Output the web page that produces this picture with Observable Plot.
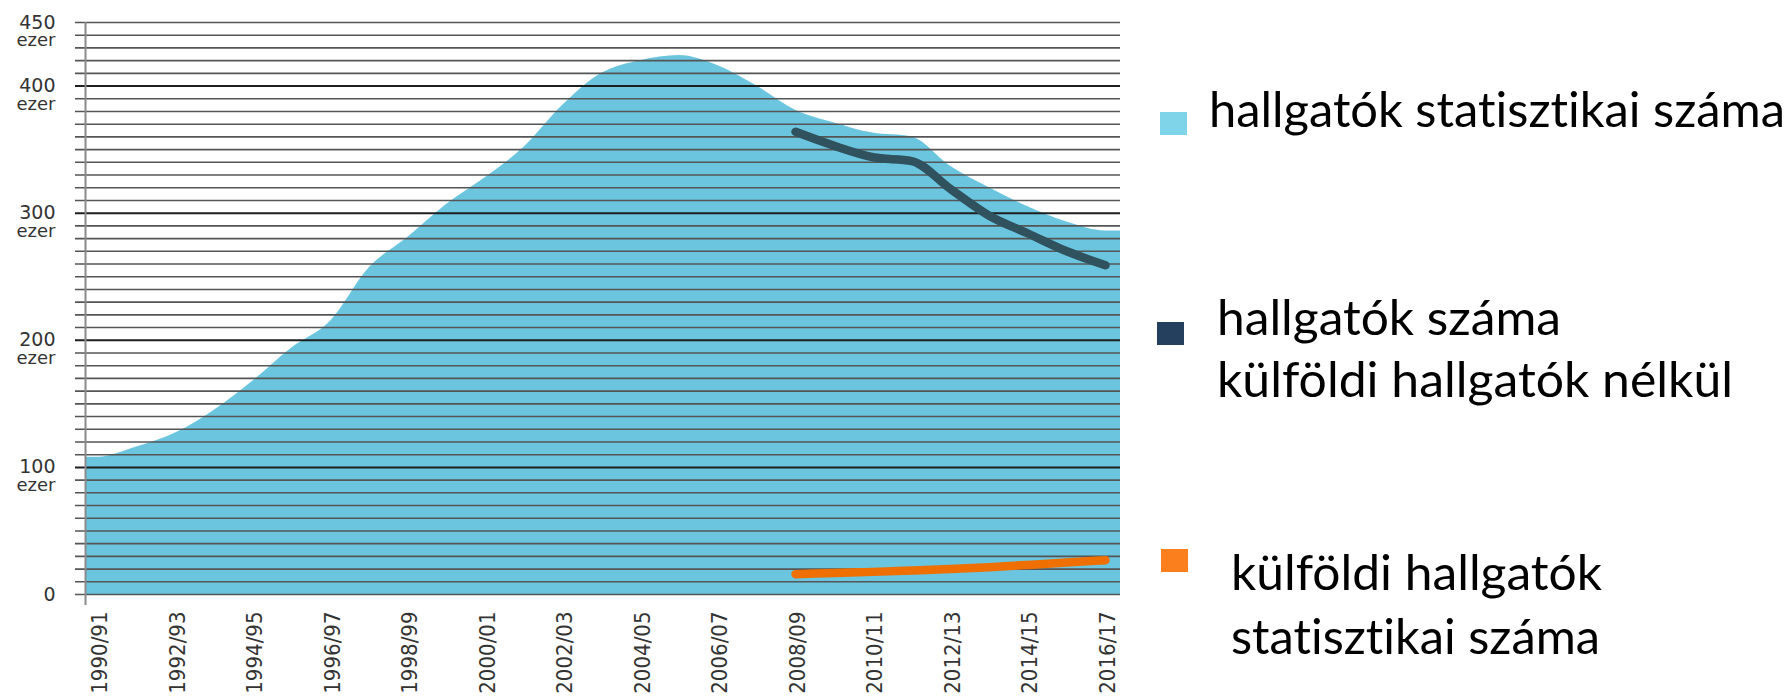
<!DOCTYPE html>
<html>
<head>
<meta charset="utf-8">
<script src="https://cdn.jsdelivr.net/npm/d3@7"></script>
<script src="https://cdn.jsdelivr.net/npm/@observablehq/plot@0.6"></script>
<style>
  html, body { margin: 0; padding: 0; background: #fff; }
  #wrap { position: relative; width: 1789px; height: 697px; overflow: hidden; }
  #legend { position: absolute; left: 0; top: 0; pointer-events: none; }
  #legend text { font-variant-ligatures: none; font-feature-settings: "liga" 0, "dlig" 0; }
</style>
</head>
<body>
<div id="wrap"></div>
<script>
// ---- data (thousand students) ----
const seasons = ["1990/91","1991/92","1992/93","1993/94","1994/95","1995/96","1996/97","1997/98","1998/99","1999/00",
  "2000/01","2001/02","2002/03","2003/04","2004/05","2005/06","2006/07","2007/08","2008/09","2009/10",
  "2010/11","2011/12","2012/13","2013/14","2014/15","2015/16","2016/17"];
const totalStudents = [108,116,127,145,168,194,215,257,281,307,328,352,385,410,420,424,416,400,381,371,363,360,337,320,305,293,286];
const recentSeasons = ["2008/09","2009/10","2010/11","2011/12","2012/13","2013/14","2014/15","2015/16","2016/17"];
const withoutForeign = [364,353,344,341,319,298,284,270,259];
const foreignStudents = [16,16.9,17.8,18.8,20,21.5,23.3,25.2,27];
const tickSeasons = ["1990/91","1992/93","1994/95","1996/97","1998/99","2000/01","2002/03","2004/05","2006/07","2008/09","2010/11","2012/13","2014/15","2016/17"];
const yTicks = [0,100,200,300,400,450];
const legendItems = [
  {label: ["hallgatók statisztikai száma"], color: "#80d4ea"},
  {label: ["hallgatók száma", "külföldi hallgatók nélkül"], color: "#253f5f"},
  {label: ["külföldi hallgatók", "statisztikai száma"], color: "#fb7f1c"}
];

// ---- derived tables ----
const xDomain = [-0.323, 26.387];
const areaData = totalStudents.map((v, i) => ({i, v}));
const areaExt = [{i: xDomain[0], v: totalStudents[0]}, ...areaData, {i: xDomain[1], v: totalStudents[totalStudents.length - 1]}];
const darkData = recentSeasons.map((s, k) => ({i: seasons.indexOf(s), v: withoutForeign[k]}));
const orangeData = recentSeasons.map((s, k) => ({i: seasons.indexOf(s), v: foreignStudents[k]}));
const gridAll = d3.range(0, 451, 10);
const gridMajor = gridAll.filter(d => d % 100 === 0 && d > 0);
const gridMinor = gridAll.filter(d => !(d % 100 === 0 && d > 0));
const tickIdx = tickSeasons.map(s => seasons.indexOf(s));

const chart = Plot.plot({
  width: 1789,
  height: 697,
  marginLeft: 85,
  marginRight: 669,
  marginTop: 22,
  marginBottom: 103,
  style: {background: "#fff", overflow: "visible"},
  x: {type: "linear", domain: xDomain},
  y: {domain: [0, 450]},
  marks: [
    Plot.areaY(areaExt, {x: "i", y: "v", fill: "#6bc5df", curve: "monotone-x"}),
    Plot.ruleY(gridMinor, {stroke: "#555", strokeWidth: 1.6, insetLeft: -10}),
    Plot.ruleY(gridMajor, {stroke: "#1e1e1e", strokeWidth: 2, insetLeft: -10}),
    Plot.ruleX([xDomain[0]], {stroke: "#8a8a8a", strokeWidth: 2, insetBottom: -11}),
    Plot.line(darkData, {x: "i", y: "v", stroke: "#2f525e", strokeWidth: 8.5, curve: "monotone-x", strokeLinecap: "round", strokeLinejoin: "round"}),
    Plot.line(orangeData, {x: "i", y: "v", stroke: "#ef6f00", strokeWidth: 8.5, curve: "monotone-x", strokeLinecap: "round", strokeLinejoin: "round"}),
    Plot.axisY(yTicks, {tickSize: 0, tickPadding: 30, fontSize: 19, fontFamily: "DejaVu Sans", color: "#333", label: null, tickFormat: d => String(d)}),
    Plot.axisY(yTicks.filter(d => d > 0), {tickSize: 0, tickPadding: 30, fontSize: 18, fontFamily: "DejaVu Sans", color: "#333", label: null, dy: 18, tickFormat: () => "ezer"}),
    Plot.axisX(tickIdx, {tickSize: 0, tickPadding: 17, tickRotate: -90, fontSize: 22, fontFamily: "'DejaVu Sans Condensed', sans-serif", color: "#333", label: null, dx: 2, tickFormat: i => seasons[i]})
  ]
});
const wrap = document.getElementById("wrap");
wrap.appendChild(chart);

// ---- legend overlay ----
const legendLayout = [
  {sw: [1160, 112, 27, 23], lines: [[1209, 127, 576]]},
  {sw: [1157, 322, 27, 23], lines: [[1217, 335, 344], [1217, 397, 516]]},
  {sw: [1161, 549, 27, 23], lines: [[1231, 590, 371], [1231, 654, 369]]}
];
const lg = d3.select(wrap).append("svg").attr("id", "legend").attr("width", 1789).attr("height", 697);
legendItems.forEach((item, k) => {
  const L = legendLayout[k];
  lg.append("rect").attr("x", L.sw[0]).attr("y", L.sw[1]).attr("width", L.sw[2]).attr("height", L.sw[3]).attr("fill", item.color);
  item.label.forEach((t, j) => {
    const [x, y, w] = L.lines[j];
    lg.append("text").attr("x", x).attr("y", y).attr("font-family", "Lato, 'Open Sans', sans-serif")
      .attr("font-size", 48).attr("fill", "#000")
      .attr("textLength", w).attr("lengthAdjust", "spacingAndGlyphs").text(t);
  });
});
</script>
</body>
</html>
